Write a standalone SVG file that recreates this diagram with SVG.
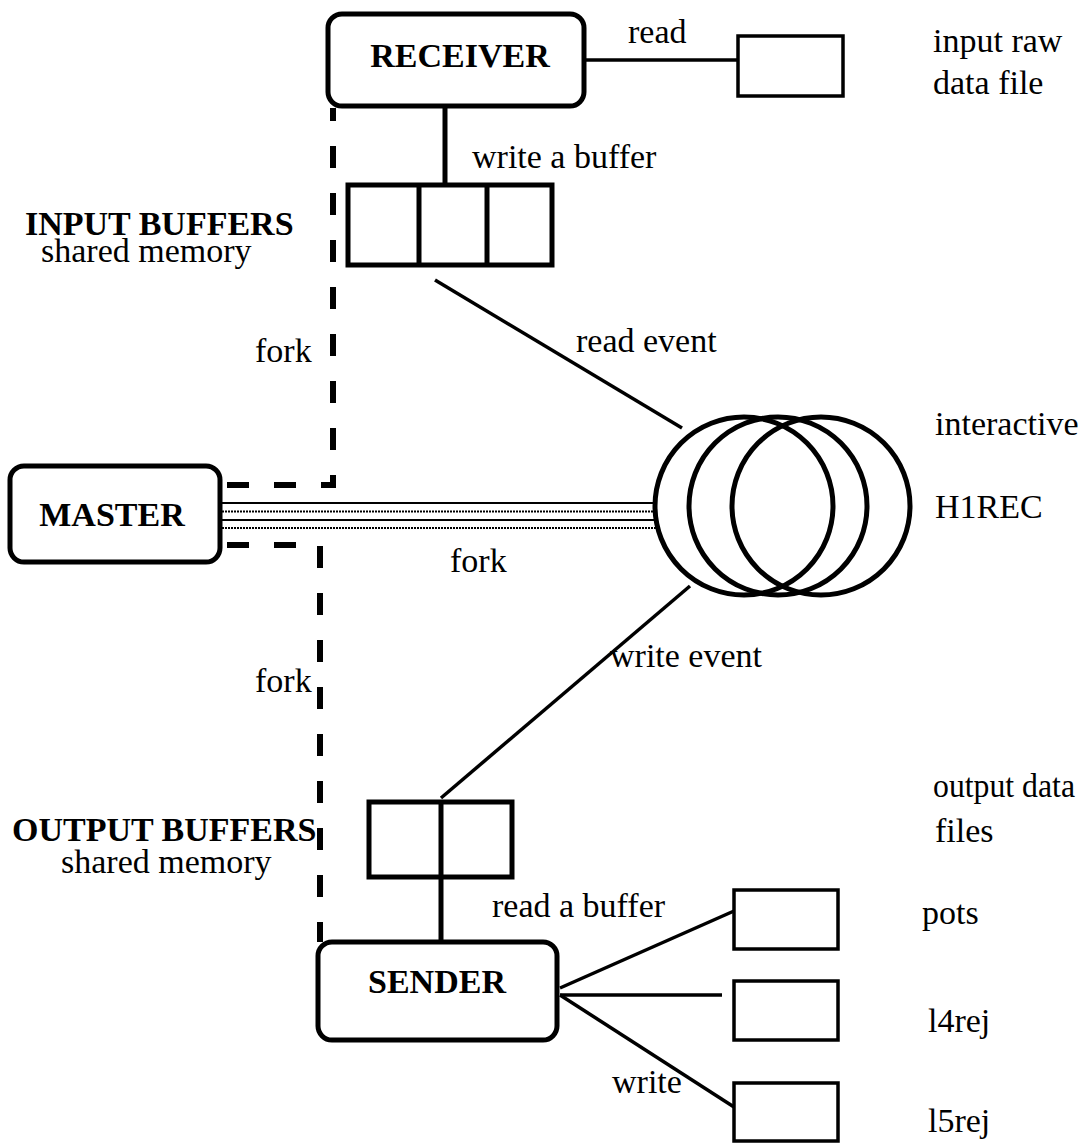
<svg xmlns="http://www.w3.org/2000/svg" width="1084" height="1144" viewBox="0 0 1084 1144">
<style>
  text { font-family: "Liberation Serif", "Times New Roman", serif; font-size: 34px; fill: #000; }
  .b { font-weight: bold; }
  .proc { fill: #fff; stroke: #000; stroke-width: 5; }
  .buf { fill: #fff; stroke: #000; stroke-width: 5; }
  .file { fill: #fff; stroke: #000; stroke-width: 3.5; }
  .ln { stroke: #000; stroke-width: 3.5; fill: none; }
  .thick { stroke: #000; stroke-width: 5; fill: none; }
  .dash { stroke: #000; stroke-width: 6; fill: none; stroke-dasharray: 22 25; }
  .ring { fill: none; stroke: #000; stroke-width: 5; }
  .solid { stroke: #000; stroke-width: 2; }
  .dot { stroke: #000; stroke-width: 2; stroke-dasharray: 2 1; }
</style>
<rect width="1084" height="1144" fill="#fff"/>

<g id="connectors">
  <path class="dash" d="M 227 485 H 333 V 108"/>
  <path class="dash" d="M 227 545 H 320 V 942"/>
  <line class="solid" x1="222" y1="503" x2="657" y2="503"/>
  <line class="dot" x1="222" y1="511.5" x2="656" y2="511.5"/>
  <line class="solid" x1="222" y1="520" x2="656" y2="520"/>
  <line class="dot" x1="222" y1="528" x2="657" y2="528"/>
  <line class="ln" x1="584" y1="60" x2="738" y2="60"/>
  <line class="thick" x1="445" y1="106" x2="445" y2="185"/>
  <line class="ln" x1="435" y1="280" x2="682" y2="428"/>
  <line class="ln" x1="441" y1="798" x2="690" y2="586"/>
  <line class="thick" x1="441" y1="877" x2="441" y2="942"/>
  <line class="ln" x1="560" y1="988" x2="734" y2="911"/>
  <line class="ln" x1="560" y1="995" x2="722" y2="995"/>
  <line class="ln" x1="560" y1="995" x2="734" y2="1107"/>
</g>

<g id="receiver">
  <rect class="proc" x="328" y="14" width="256" height="92" rx="14"/>
  <text class="b" x="460" y="67" text-anchor="middle">RECEIVER</text>
</g>

<g id="input-raw-file">
  <rect class="file" x="738" y="36" width="105" height="60"/>
</g>

<g id="input-buffers">
  <rect class="buf" x="348" y="185" width="204" height="80"/>
  <line class="thick" x1="419" y1="185" x2="419" y2="265"/>
  <line class="thick" x1="487" y1="185" x2="487" y2="265"/>
</g>

<g id="master">
  <rect class="proc" x="10" y="466" width="210" height="96" rx="14"/>
  <text class="b" x="112" y="526" text-anchor="middle">MASTER</text>
</g>

<g id="h1rec">
  <circle class="ring" cx="744" cy="506" r="89"/>
  <circle class="ring" cx="778" cy="506" r="89"/>
  <circle class="ring" cx="821" cy="506" r="89"/>
</g>

<g id="output-buffers">
  <rect class="buf" x="369" y="802" width="143" height="75"/>
  <line class="thick" x1="441" y1="802" x2="441" y2="877"/>
</g>

<g id="sender">
  <rect class="proc" x="318" y="942" width="239" height="98" rx="14"/>
  <text class="b" x="437" y="993" text-anchor="middle">SENDER</text>
</g>

<g id="file-pots">
  <rect class="file" x="734" y="890" width="104" height="59"/>
</g>
<g id="file-l4rej">
  <rect class="file" x="734" y="981" width="104" height="59"/>
</g>
<g id="file-l5rej">
  <rect class="file" x="734" y="1083" width="104" height="58"/>
</g>

<g id="labels">
  <text x="628" y="43">read</text>
  <text x="933" y="52">input raw</text>
  <text x="933" y="94">data file</text>
  <text x="472" y="168">write a buffer</text>
  <text class="b" x="25" y="235">INPUT BUFFERS</text>
  <text x="41" y="262">shared memory</text>
  <text x="255" y="362">fork</text>
  <text x="576" y="352">read event</text>
  <text x="935" y="435">interactive</text>
  <text x="935" y="518">H1REC</text>
  <text x="450" y="572">fork</text>
  <text x="255" y="692">fork</text>
  <text x="610" y="667">write event</text>
  <text x="933" y="797" textLength="142" lengthAdjust="spacingAndGlyphs">output data</text>
  <text x="935" y="842">files</text>
  <text class="b" x="12" y="841">OUTPUT BUFFERS</text>
  <text x="61" y="873">shared memory</text>
  <text x="492" y="917">read a buffer</text>
  <text x="922" y="924">pots</text>
  <text x="928" y="1032">l4rej</text>
  <text x="612" y="1093">write</text>
  <text x="928" y="1132">l5rej</text>
</g>
</svg>
